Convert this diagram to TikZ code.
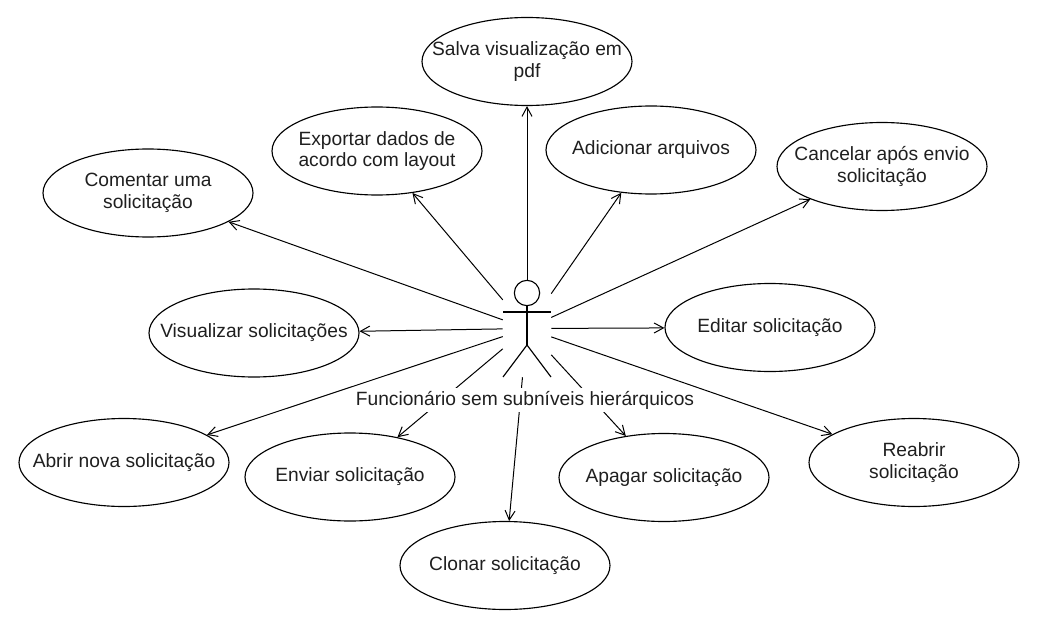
\documentclass[tikz,border=0pt]{standalone}
\usepackage{fontspec}
\setmainfont{Liberation Sans}
\usetikzlibrary{shapes.geometric,arrows.meta}
\newcommand{\ucfont}{\fontsize{14.4}{16.4}\selectfont}
\tikzset{
  uc/.style={ellipse, draw, line width=0.85pt, minimum width=157.5pt, minimum height=66pt, inner sep=0pt},
  uctext/.style={align=center, font=\ucfont, text=black!88, inner sep=0pt},
  assoc/.style={line width=0.75pt, -{Straight Barb[length=7pt,width=7.5pt,line width=0.75pt]}},
  actorline/.style={line width=0.85pt},
}
\begin{document}
\begin{tikzpicture}[x=0.75pt,y=-0.75pt]
\useasboundingbox (0,0) rectangle (1045,638);
% use cases
\node[uc] (salva) at (527,61.5) {};
\node[uctext] at (salva) {Salva visualização em\\pdf};
\node[uc] (export) at (377,151) {};
\node[uctext] at (export) {Exportar dados de\\acordo com layout};
\node[uc] (adic) at (651,150) {};
\node[uctext] at (adic) {Adicionar arquivos};
\node[uc] (cancel) at (882,166.5) {};
\node[uctext] at (cancel) {Cancelar após envio\\solicitação};
\node[uc] (coment) at (148,193) {};
\node[uctext] at (coment) {Comentar uma\\solicitação};
\node[uc] (visual) at (254,333) {};
\node[uctext] at (visual) {Visualizar solicitações};
\node[uc] (editar) at (770,327.5) {};
\node[uctext] at (editar) {Editar solicitação};
\node[uc] (abrir) at (124,462.5) {};
\node[uctext] at (abrir) {Abrir nova solicitação};
\node[uc] (enviar) at (350,477) {};
\node[uctext] at (enviar) {Enviar solicitação};
\node[uc] (apagar) at (664,477.5) {};
\node[uctext] at (apagar) {Apagar solicitação};
\node[uc] (reabrir) at (914,462.5) {};
\node[uctext] at (reabrir) {Reabrir\\solicitação};
\node[uc] (clonar) at (505,565.5) {};
\node[uctext] at (clonar) {Clonar solicitação};
% actor bounding box
\node[minimum width=36pt, minimum height=72.75pt, inner sep=0pt] (actor) at (527,328.5) {};
% actor figure
\draw[actorline] (527,293) circle[radius=9.5pt];
\coordinate (neck) at (527,305.7);
\coordinate (hip) at (527,345);
\draw[actorline] (neck) -- (hip);
\draw[actorline] (503,312) -- (551,312);
\draw[actorline] (503,377) -- (hip) -- (551,377);
% associations
\foreach \t in {salva,export,adic,cancel,coment,visual,editar,abrir,enviar,apagar,reabrir,clonar}
  \draw[assoc] (actor) -- (\t);
% actor label
\node[fill=white, font=\ucfont, text=black!88, inner sep=2pt] (alabel) at (525,400) {Funcionário sem subníveis hierárquicos};
\end{tikzpicture}
\end{document}
